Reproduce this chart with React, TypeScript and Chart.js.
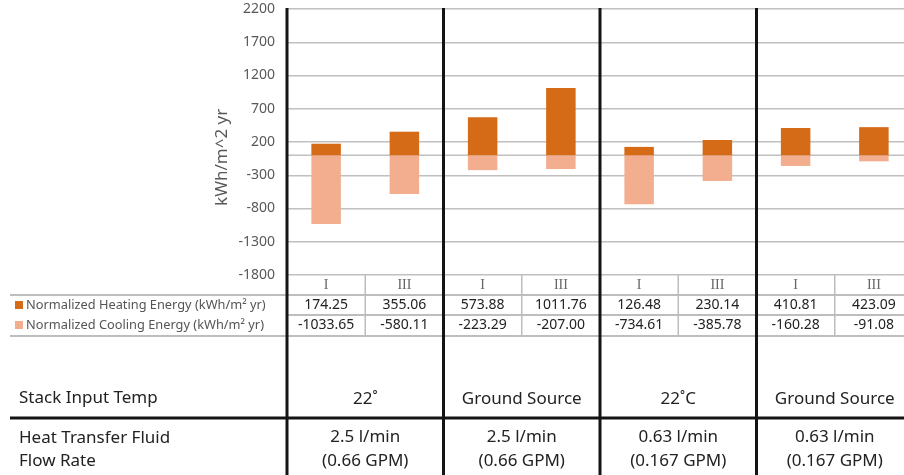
import React, { useEffect, useRef } from "react";
import { Chart, registerables } from "chart.js";

Chart.register(...registerables);

// ---- data ----
const categories = ["I", "III", "I", "III", "I", "III", "I", "III"];
const heating = [174.25, 355.06, 573.88, 1011.76, 126.48, 230.14, 410.81, 423.09];
const cooling = [-1033.65, -580.11, -223.29, -207.0, -734.61, -385.78, -160.28, -91.08];
const seriesNames = [
  "Normalized Heating Energy (kWh/m² yr)",
  "Normalized Cooling Energy (kWh/m² yr)",
];
const yMin = -1800;
const yMax = 2200;
const yStep = 500;
const yTitle = "kWh/m^2 yr";
const stackTemps = ["22˚", "Ground Source", "22˚C", "Ground Source"];
const flowRates = ["2.5 l/min", "2.5 l/min", "0.63 l/min", "0.63 l/min"];
const flowGpm = ["(0.66 GPM)", "(0.66 GPM)", "(0.167 GPM)", "(0.167 GPM)"];
const rowLabels = ["Stack Input Temp", "Heat Transfer Fluid", "Flow Rate"];

const HEAT = "#D56A17";
const COOL = "#F2AE8E";
const SANS = '"Noto Sans", "Open Sans", sans-serif';

export default function App() {
  const ref = useRef<HTMLCanvasElement>(null);

  useEffect(() => {
    const canvas = ref.current!;
    const tablePlugin = {
      id: "tablePlugin",
      beforeDatasetsDraw(chart: any) {
        const { ctx, chartArea: ca, scales } = chart;
        const y0 = scales.y.getPixelForValue(0);
        ctx.save();
        ctx.strokeStyle = "#c0c0c0";
        ctx.lineWidth = 1.5;
        ctx.beginPath();
        ctx.moveTo(ca.left, y0);
        ctx.lineTo(ca.right, y0);
        ctx.stroke();
        ctx.restore();
      },
      afterDraw(chart: any) {
        const { ctx, chartArea: ca, scales } = chart;
        const xs = scales.x;
        const ys = scales.y;
        const W = chart.width;
        const H = chart.height;
        const n = categories.length;
        const cw = (ca.right - ca.left) / n;
        const edge = (i: number) => xs.getPixelForValue(i) - cw / 2;
        const tTop = ca.bottom;
        const r1 = tTop + 20;
        const r2 = r1 + 20;
        const r3 = r2 + 21;

        ctx.save();
        // y title
        ctx.save();
        ctx.translate(222, ys.getPixelForValue(0) + 2);
        ctx.rotate(-Math.PI / 2);
        ctx.font = `17px ${SANS}`;
        ctx.fillStyle = "#595959";
        ctx.textAlign = "center";
        ctx.textBaseline = "middle";
        ctx.fillText(yTitle, 0, 0);
        ctx.restore();

        // table gray lines
        ctx.strokeStyle = "#a8a8a8";
        ctx.lineWidth = 1.5;
        ctx.beginPath();
        ctx.moveTo(10, r1);
        ctx.lineTo(W, r1);
        ctx.moveTo(ca.left, r2);
        ctx.lineTo(W, r2);
        ctx.moveTo(10, r3);
        ctx.lineTo(W, r3);
        ctx.stroke();
        ctx.strokeStyle = "#bdbdbd";
        ctx.beginPath();
        for (let i = 1; i < n; i += 2) {
          ctx.moveTo(edge(i), tTop);
          ctx.lineTo(edge(i), r3);
        }
        ctx.stroke();

        // category labels and values
        ctx.textAlign = "center";
        ctx.textBaseline = "middle";
        for (let i = 0; i < n; i++) {
          const cx = xs.getPixelForValue(i);
          ctx.font = '14px "Liberation Serif", serif';
          ctx.fillStyle = "#666";
          ctx.fillText(categories[i], cx, tTop + 10.5);
          ctx.font = `14px ${SANS}`;
          ctx.fillStyle = "#222";
          ctx.fillText(heating[i].toFixed(2), cx, r1 + 10);
          ctx.fillText(cooling[i].toFixed(2), cx, r2 + 10.5);
        }

        // legend keys
        ctx.textAlign = "left";
        ctx.font = `12.8px ${SANS}`;
        ctx.fillStyle = HEAT;
        ctx.fillRect(15, r1 + 6, 8, 8);
        ctx.fillStyle = COOL;
        ctx.fillRect(15, r2 + 6, 8, 8);
        ctx.fillStyle = "#555";
        ctx.fillText(seriesNames[0], 26, r1 + 10);
        ctx.fillText(seriesNames[1], 26, r2 + 10.5);

        // thick black group lines
        ctx.strokeStyle = "#141414";
        ctx.lineWidth = 3;
        ctx.beginPath();
        for (let i = 0; i <= n; i += 2) {
          ctx.moveTo(edge(i), ca.top - 1);
          ctx.lineTo(edge(i), H);
        }
        ctx.moveTo(10, 418);
        ctx.lineTo(W, 418);
        ctx.stroke();

        // bottom rows
        ctx.textBaseline = "alphabetic";
        ctx.font = `17px ${SANS}`;
        ctx.fillStyle = "#222";
        ctx.textAlign = "left";
        ctx.fillText(rowLabels[0], 19, 403);
        ctx.fillText(rowLabels[1], 19, 443);
        ctx.fillText(rowLabels[2], 19, 466);
        ctx.textAlign = "center";
        for (let g = 0; g < stackTemps.length; g++) {
          const cx = (edge(g * 2) + edge(g * 2 + 2)) / 2;
          ctx.fillText(stackTemps[g], cx, 404);
          ctx.fillText(flowRates[g], cx, 442);
          ctx.fillText(flowGpm[g], cx, 466);
        }
        ctx.restore();
      },
    };

    const chart = new Chart(canvas, {
      type: "bar",
      data: {
        labels: categories,
        datasets: [
          {
            label: seriesNames[0],
            data: heating,
            backgroundColor: HEAT,
            stack: "s",
            barPercentage: 0.377,
            categoryPercentage: 1,
          },
          {
            label: seriesNames[1],
            data: cooling,
            backgroundColor: COOL,
            stack: "s",
            barPercentage: 0.377,
            categoryPercentage: 1,
          },
        ],
      },
      options: {
        responsive: false,
        maintainAspectRatio: false,
        animation: false,
        layout: { padding: { left: 0, top: 9, right: 7, bottom: 200 } },
        plugins: { legend: { display: false }, tooltip: { enabled: false } },
        scales: {
          x: { stacked: true, display: false },
          y: {
            stacked: true,
            min: yMin,
            max: yMax,
            afterFit: (s: any) => {
              s.width = 287;
              s.paddingTop = 0;
              s.paddingBottom = 0;
            },
            border: { display: false },
            grid: { color: "#c0c0c0", lineWidth: 1.5, drawTicks: false },
            ticks: {
              stepSize: yStep,
              padding: 12,
              color: "#595959",
              font: { family: SANS, size: 14 },
              callback: (v: any) => String(v),
            },
          },
        },
      },
      plugins: [tablePlugin],
    });
    return () => chart.destroy();
  }, []);

  return (
    <div
      style={{
        position: "fixed",
        left: 0,
        top: 0,
        width: 904,
        height: 475,
        overflow: "hidden",
        background: "#fff",
      }}
    >
      <canvas ref={ref} width={920} height={475} style={{ display: "block", width: 920, height: 475 }} />
    </div>
  );
}
